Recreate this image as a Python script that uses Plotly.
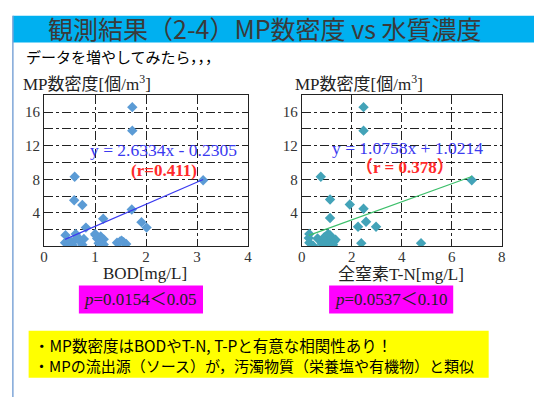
import plotly.graph_objects as go

W, H = 538, 405

# ---- data ----
bod_x = [1.73, 1.73, 0.60, 3.12, 0.59, 0.75, 1.72, 1.16, 1.91, 2.01, 0.82,
         0.42, 0.41, 0.46, 0.50, 0.53, 0.48, 0.62, 0.62, 0.71, 0.66, 0.75, 0.78, 0.56,
         1.01, 1.04, 1.11, 1.17, 1.07, 1.17, 1.00,
         1.43, 1.49, 1.56, 1.61, 1.52]
bod_y = [16.6, 13.8, 8.3, 7.9, 5.5, 4.95, 4.4, 3.3, 2.9, 2.25, 2.25,
         1.35, 0.45, 0.7, 0.3, 0.55, 0.1, 1.5, 0.85, 0.6, 1.1, 0.2, 0.9, 0.15,
         1.35, 0.95, 1.2, 0.85, 0.4, 0.25, 1.5,
         0.45, 0.6, 0.5, 0.3, 0.7]

tn_x = [2.47, 2.47, 0.76, 6.80, 1.13, 1.92, 2.47, 1.13, 2.57, 2.25, 2.97, 2.38, 4.77,
        0.30, 0.28, 0.30, 0.45, 0.63, 0.85, 0.95, 1.00, 1.05, 0.90, 1.13, 1.20,
        1.29, 1.35, 1.10, 0.80, 1.25]
tn_y = [16.6, 13.8, 8.3, 7.9, 5.6, 5.0, 4.5, 3.4, 2.95, 2.35, 2.35, 0.4, 0.4,
        1.5, 1.0, 0.45, 0.1, 0.95, 0.5, 0.2, 0.75, 1.5, 1.1, 1.35, 1.0,
        0.6, 0.8, 0.3, 0.3, 0.2]

bod_slope, bod_int = 2.6334, -0.2305
tn_slope, tn_int = 1.0758, 1.0214

y_ticks = [0, 2, 4, 6, 8, 10, 12, 14, 16, 18]
y_ticktext = [" ", " ", "4", " ", "8", " ", "12", " ", "16", " "]
bod_ticks = [0, 1, 2, 3, 4]
tn_ticks = [0, 2, 4, 6, 8]

title = "観測結果（2-4）MP数密度 vs 水質濃度"
subtitle = "データを増やしてみたら，，，"
y_title = "MP数密度[個/m<sup>3</sup>]"
bod_title = "BOD[mg/L]"
tn_title = "全窒素T-N[mg/L]"
bod_eq = "y = 2.6334x - 0.2305"
bod_r = "(r=0.411)"
tn_eq = "y = 1.0758x + 1.0214"
tn_r = "（r = 0.378）"
bod_p = "<i>p</i>=0.0154＜0.05"
tn_p = "<i>p</i>=0.0537＜0.10"
notes = ["・MP数密度はBODやT-N, T-Pと有意な相関性あり！",
         "・MPの流出源（ソース）が，汚濁物質（栄養塩や有機物）と類似"]

def fx(p):
    return p / W

def fy(p):
    return 1 - p / H

SERIF = "Liberation Serif, Noto Sans CJK JP, serif"
SANS = "Noto Sans CJK JP, sans-serif"

fig = go.Figure()

fig.add_trace(go.Scatter(x=bod_x, y=bod_y, mode="markers", xaxis="x", yaxis="y",
                         marker=dict(symbol="diamond", size=8, color="#5b9bd5"),
                         showlegend=False))
bx = [min(bod_x), max(bod_x)]
fig.add_trace(go.Scatter(x=bx, y=[bod_slope * v + bod_int for v in bx], mode="lines",
                         xaxis="x", yaxis="y", line=dict(color="#3a3af0", width=1.2),
                         showlegend=False))

fig.add_trace(go.Scatter(x=tn_x, y=tn_y, mode="markers", xaxis="x2", yaxis="y2",
                         marker=dict(symbol="diamond", size=8, color="#43a3b8"),
                         showlegend=False))
tx = [min(tn_x), max(tn_x)]
fig.add_trace(go.Scatter(x=tx, y=[tn_slope * v + tn_int for v in tx], mode="lines",
                         xaxis="x2", yaxis="y2", line=dict(color="#3cbf6a", width=1.2),
                         showlegend=False))

axis_common = dict(showline=True, linecolor="#222", linewidth=1, mirror=True,
                   showgrid=True, gridcolor="#222", gridwidth=1, griddash="dashdot",
                   zeroline=False, ticks="",
                   tickfont=dict(family=SERIF, size=15, color="#333"))

fig.update_layout(
    width=W, height=H, margin=dict(l=0, r=0, t=0, b=0),
    paper_bgcolor="white", plot_bgcolor="white",
    xaxis=dict(domain=[fx(40.7), fx(247.7)], range=[0, 4], tickvals=bod_ticks,
               anchor="y", ticklabelstandoff=-3, **axis_common),
    yaxis=dict(domain=[fy(248.3), fy(91)], range=[0, 18], tickvals=y_ticks,
               ticktext=y_ticktext, anchor="x", **axis_common),
    xaxis2=dict(domain=[fx(302.3), fx(505.3)], range=[0, 8], tickvals=tn_ticks,
                anchor="y2", ticklabelstandoff=-3, **axis_common),
    yaxis2=dict(domain=[fy(248.3), fy(91)], range=[0, 18], tickvals=y_ticks,
                ticktext=y_ticktext, anchor="x2", **axis_common),
)

shapes = [
    dict(type="rect", xref="paper", yref="paper", x0=fx(9), x1=fx(538), y0=fy(36), y1=fy(8),
         fillcolor="#00b0f0", line=dict(width=0), layer="below"),
    dict(type="line", xref="paper", yref="paper", x0=fx(9), x1=fx(9), y0=fy(405), y1=fy(8),
         line=dict(color="#7fa6d8", width=1.5)),
    dict(type="rect", xref="paper", yref="paper", x0=fx(76), x1=fx(202), y0=fy(318), y1=fy(289),
         fillcolor="#ff00ff", line=dict(width=0), layer="below"),
    dict(type="rect", xref="paper", yref="paper", x0=fx(330), x1=fx(456), y0=fy(318), y1=fy(289),
         fillcolor="#ff00ff", line=dict(width=0), layer="below"),
    dict(type="rect", xref="paper", yref="paper", x0=fx(25), x1=fx(492), y0=fy(385), y1=fy(336),
         fillcolor="#ffff00", line=dict(width=0), layer="below"),
]

def ann(text, x, y, size, color="#000", family=SERIF, xanchor="center"):
    return dict(text=text, x=fx(x), y=fy(y), xref="paper", yref="paper",
                xanchor=xanchor, yanchor="middle", showarrow=False,
                font=dict(family=family, size=size, color=color))

annotations = [
    ann(title, 264, 21, 25, "#3a3a3a", SANS),
    ann(subtitle, 20, 50, 15, "#000", SANS, "left"),
    ann(y_title, 84, 78, 17, "#222"),
    ann(y_title, 360, 78, 17, "#222"),
    ann(bod_title, 143, 276, 17, "#222"),
    ann(tn_title, 403, 277, 17, "#222"),
    ann(bod_eq, 162, 148, 17.5, "#3a3af0"),
    ann("<b>" + bod_r + "</b>", 162, 169, 17, "#ff2a2a"),
    ann(tn_eq, 410, 146, 17.5, "#3a3af0"),
    ann("<b>" + tn_r + "</b>", 407, 166, 17, "#ff2a2a"),
    ann(bod_p, 139, 304, 17, "#222"),
    ann(tn_p, 393, 304, 17, "#222"),
    ann(notes[0], 28, 351, 15.5, "#000", SANS, "left"),
    ann(notes[1], 28, 372, 15, "#000", SANS, "left"),
]

fig.update_layout(shapes=shapes, annotations=annotations)
fig.write_html("out.html")
